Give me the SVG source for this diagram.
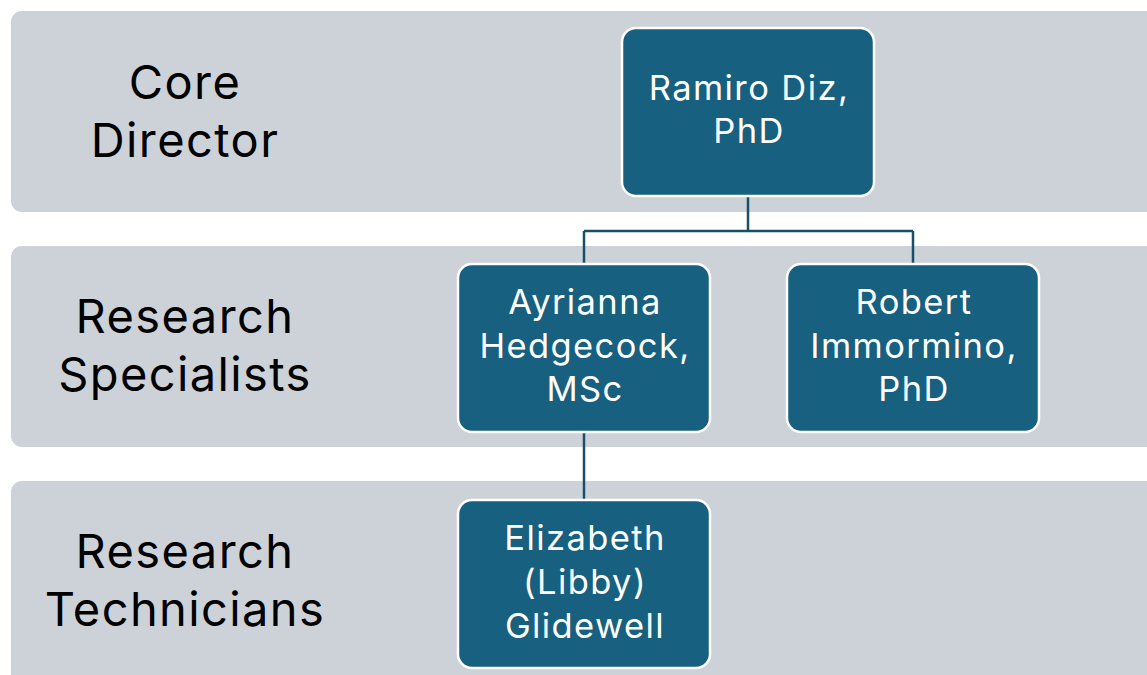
<svg xmlns="http://www.w3.org/2000/svg" width="1147" height="675" viewBox="0 0 1147 675">
  <style>
    .band { fill: #CDD2D9; }
    .node { fill: #176080; stroke: #FFFFFF; stroke-width: 2.5; }
    .lbl { font-family: Inter, "Liberation Sans", sans-serif; font-size: 47px; letter-spacing: 1.4px; fill: #000000; text-anchor: middle; }
    .ntx { font-family: Inter, "Liberation Sans", sans-serif; font-size: 34.5px; letter-spacing: 1.4px; fill: #FFFFFF; text-anchor: middle; }
    .conn { stroke: #17506B; stroke-width: 2.5; fill: none; }
  </style>
  <rect width="1147" height="675" fill="#FFFFFF"/>
  <g id="band-director">
    <rect class="band" x="11" y="11" width="1160" height="201" rx="11"/>
    <text class="lbl" x="185" y="99">Core</text>
    <text class="lbl" x="185" y="156.5">Director</text>
  </g>
  <g id="band-specialists">
    <rect class="band" x="11" y="246" width="1160" height="201" rx="11"/>
    <text class="lbl" x="185" y="333">Research</text>
    <text class="lbl" x="185" y="390.5">Specialists</text>
  </g>
  <g id="band-technicians">
    <rect class="band" x="11" y="481" width="1160" height="230" rx="11"/>
    <text class="lbl" x="185" y="568">Research</text>
    <text class="lbl" x="185" y="625.5">Technicians</text>
  </g>
  <g id="connectors">
    <path class="conn" d="M748 197 V231 M584 231 H913 M584 231 V264 M913 231 V264 M584 432 V500"/>
  </g>
  <g id="node-ramiro">
    <rect class="node" x="622" y="28" width="252" height="168" rx="14"/>
    <text class="ntx" x="749" y="99.5">Ramiro Diz,</text>
    <text class="ntx" x="749" y="143">PhD</text>
  </g>
  <g id="node-ayrianna">
    <rect class="node" x="458" y="264" width="252" height="168" rx="14"/>
    <text class="ntx" x="585" y="313.5">Ayrianna</text>
    <text class="ntx" x="585" y="357.5">Hedgecock,</text>
    <text class="ntx" x="585" y="401">MSc</text>
  </g>
  <g id="node-robert">
    <rect class="node" x="787" y="264" width="252" height="168" rx="14"/>
    <text class="ntx" x="914" y="313.5">Robert</text>
    <text class="ntx" x="914" y="357.5">Immormino,</text>
    <text class="ntx" x="914" y="401">PhD</text>
  </g>
  <g id="node-elizabeth">
    <rect class="node" x="458" y="500" width="252" height="168" rx="14"/>
    <text class="ntx" x="585" y="550">Elizabeth</text>
    <text class="ntx" x="585" y="594">(Libby)</text>
    <text class="ntx" x="585" y="638">Glidewell</text>
  </g>
</svg>
